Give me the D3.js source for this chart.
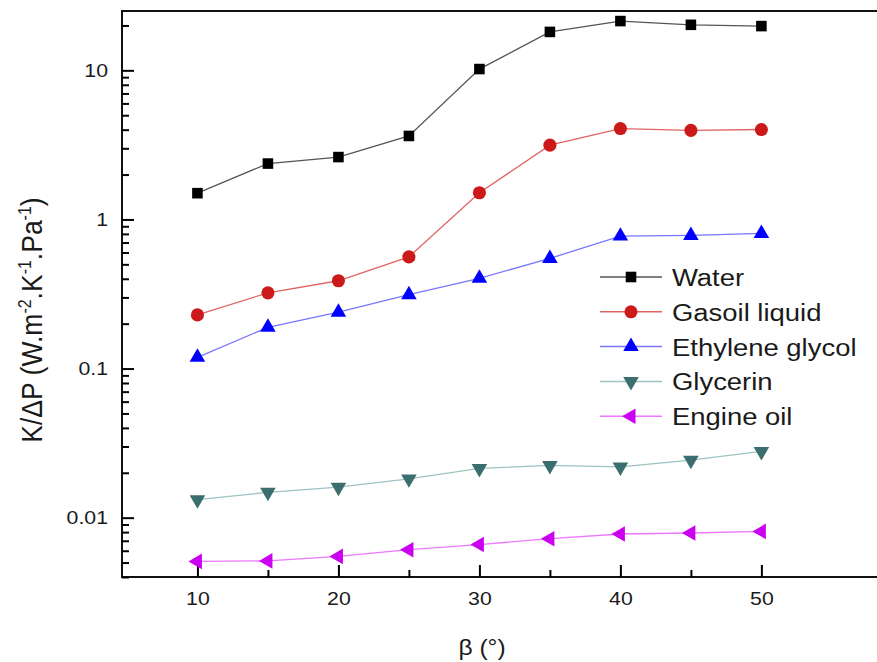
<!DOCTYPE html>
<html lang="en">
<head>
  <meta charset="UTF-8" />
  <title>K/ΔP vs β</title>
  <script src="https://d3js.org/d3.v7.min.js"></script>
  <style>
    body {
      margin: 0;
      background: #fff;
      font-family: 'Liberation Sans', Arial, sans-serif;
      overflow: hidden;
    }
    svg { display: block; }
    text { fill: #1a1a1a; }
  </style>
</head>
<body>
<script>
  // data
  const betas = [10, 15, 20, 25, 30, 35, 40, 45, 50];
  const water = [1.5, 2.37, 2.62, 3.63, 10.2, 18.1, 21.4, 20.2, 19.8];
  const gasoil = [0.229, 0.322, 0.388, 0.561, 1.51, 3.15, 4.07, 3.96, 4.01];
  const ethylene = [0.119, 0.189, 0.239, 0.313, 0.403, 0.548, 0.773, 0.781, 0.806];
  const glycerin = [0.0132, 0.0148, 0.016, 0.0182, 0.0214, 0.0224, 0.0219, 0.0243, 0.0278];
  const engineOil = [0.00509, 0.00513, 0.0055, 0.0061, 0.0066, 0.00723, 0.00777, 0.00789, 0.00809];

  const seriesNames = ["Water", "Gasoil liquid", "Ethylene glycol", "Glycerin", "Engine oil"];
  const xTicks = [10, 20, 30, 40, 50];
  const xMinorTicks = [15, 25, 35, 45];
  const yTicks = [0.01, 0.1, 1, 10];
  const yTickLabels = ["0.01", "0.1", "1", "10"];

  const series = [
    { name: seriesNames[0], values: water,     marker: "#000000", line: "#555555", shape: "square" },
    { name: seriesNames[1], values: gasoil,    marker: "#cc1a1a", line: "#e06464", shape: "circle" },
    { name: seriesNames[2], values: ethylene,  marker: "#0000ff", line: "#7777ff", shape: "up" },
    { name: seriesNames[3], values: glycerin,  marker: "#3b6e6e", line: "#9fc3c3", shape: "down" },
    { name: seriesNames[4], values: engineOil, marker: "#cc00f0", line: "#ee77ff", shape: "left" }
  ];

  const width = 877, height = 662;
  const plotLeft = 122, plotTop = 11, plotBottom = 577;
  const stretch = 1.12;   // text in the reference is a little wide

  const svg = d3.select("body").append("svg")
    .attr("width", width)
    .attr("height", height);

  const x = d3.scaleLinear().domain([4.65, 58.2]).range([plotLeft, width]);
  const y = d3.scaleLog().domain([0.004, 25]).range([plotBottom, plotTop]);

  // minor log ticks 2..9 per decade
  const yMinor = [];
  for (let e = -3; e <= 1; e++) {
    for (let m = 2; m <= 9; m++) {
      const v = m * Math.pow(10, e);
      if (v >= y.domain()[0] && v <= y.domain()[1]) yMinor.push(v);
    }
  }

  // widen axis labels like the reference, keeping their anchor point
  function widen(sel) {
    sel.selectAll("text").each(function () {
      const t = d3.select(this);
      const tx = +t.attr("x") || 0, ty = +t.attr("y") || 0;
      t.attr("x", 0).attr("y", 0)
        .attr("transform", `translate(${tx},${ty}) scale(${stretch},1)`);
    });
  }

  function styleAxis(g, w) {
    g.select(".domain").remove();
    g.selectAll(".tick line").attr("stroke", "#000").attr("stroke-width", w);
    g.selectAll("text")
      .attr("font-size", 19)
      .attr("fill", "#1a1a1a")
      .attr("font-family", "'Liberation Sans', Arial, sans-serif");
  }

  // frame: left, top, bottom (right edge is off the picture)
  svg.append("path")
    .attr("d", `M${width},${plotTop}H${plotLeft}V${plotBottom}H${width}`)
    .attr("fill", "none")
    .attr("stroke", "#111")
    .attr("stroke-width", 2);

  // y axis: minor and major ticks point inward
  svg.append("g")
    .attr("transform", `translate(${plotLeft},0)`)
    .call(d3.axisLeft(y).tickValues(yMinor).tickSize(-7).tickFormat(""))
    .call(g => styleAxis(g, 2));

  svg.append("g")
    .attr("transform", `translate(${plotLeft},0)`)
    .call(d3.axisLeft(y).tickValues(yTicks).tickSize(-12).tickPadding(14)
      .tickFormat((d, i) => yTickLabels[i]))
    .call(g => styleAxis(g, 2))
    .call(widen);

  // x axis
  svg.append("g")
    .attr("transform", `translate(0,${plotBottom})`)
    .call(d3.axisBottom(x).tickValues(xMinorTicks).tickSize(-7).tickFormat(""))
    .call(g => styleAxis(g, 2));

  svg.append("g")
    .attr("transform", `translate(0,${plotBottom})`)
    .call(d3.axisBottom(x).tickValues(xTicks).tickSize(-12).tickPadding(15)
      .tickFormat(d3.format("d")))
    .call(g => styleAxis(g, 2))
    .call(widen);

  // axis titles
  svg.append("text")
    .attr("transform", `translate(482,655) scale(${stretch},1)`)
    .attr("text-anchor", "middle")
    .attr("font-size", 22)
    .text("β (°)");

  const yTitle = svg.append("text")
    .attr("transform", `translate(42,320) scale(${stretch},1) rotate(-90)`)
    .attr("text-anchor", "middle")
    .attr("font-size", 26.5);
  yTitle.append("tspan").text("K/ΔP (W.m");
  yTitle.append("tspan").attr("font-size", 16).attr("dy", -10).text("-2");
  yTitle.append("tspan").attr("dy", 10).text(".K");
  yTitle.append("tspan").attr("font-size", 16).attr("dy", -10).text("-1");
  yTitle.append("tspan").attr("dy", 10).text(".Pa");
  yTitle.append("tspan").attr("font-size", 16).attr("dy", -10).text("-1");
  yTitle.append("tspan").attr("dy", 10).text(")");

  // marker shapes
  function shapePath(shape) {
    if (shape === "square") return d3.symbol(d3.symbolSquare, 112)();
    if (shape === "circle") return d3.symbol(d3.symbolCircle, 135)();
    return d3.symbol(d3.symbolTriangle, 105)();
  }
  function shapeRotate(shape) {
    if (shape === "down") return 180;
    if (shape === "left") return -90;
    return 0;
  }

  const linePath = d3.line()
    .x((d, i) => x(betas[i]))
    .y(d => y(d));

  series.forEach(s => {
    svg.append("path")
      .datum(s.values)
      .attr("d", linePath)
      .attr("fill", "none")
      .attr("stroke", s.line)
      .attr("stroke-width", 1.3);

    svg.selectAll(null).data(s.values).enter().append("path")
      .attr("d", shapePath(s.shape))
      .attr("transform", (d, i) => `translate(${x(betas[i])},${y(d)}) rotate(${shapeRotate(s.shape)})`)
      .attr("fill", s.marker);
  });

  // legend
  const legend = svg.append("g").attr("transform", "translate(600,277)");
  series.forEach((s, i) => {
    const g = legend.append("g").attr("transform", `translate(0,${i * 34.8})`);
    g.append("line")
      .attr("x1", 0).attr("x2", 62)
      .attr("stroke", s.line).attr("stroke-width", 1.5);
    g.append("path")
      .attr("d", shapePath(s.shape))
      .attr("transform", `translate(31,0) rotate(${shapeRotate(s.shape)})`)
      .attr("fill", s.marker);
    g.append("text")
      .attr("transform", `translate(72,9) scale(${stretch},1)`)
      .attr("font-size", 24.5)
      .text(s.name);
  });
</script>
</body>
</html>
